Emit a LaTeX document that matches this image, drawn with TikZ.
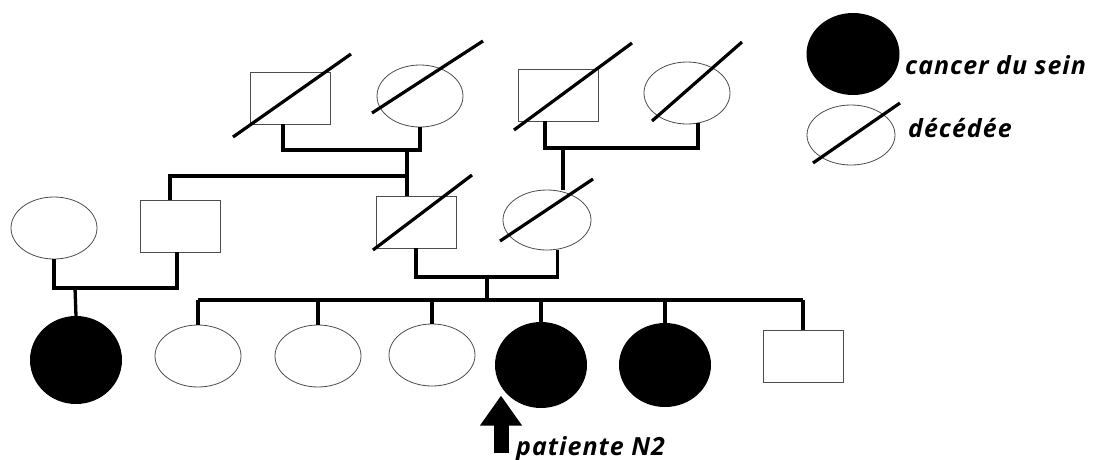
\documentclass[tikz,border=0pt]{standalone}
\usepackage{fontspec}
\setmainfont{Open Sans}
\usetikzlibrary{shapes.geometric,arrows.meta,calc}

\tikzset{
  man/.style={draw=black!70,line width=0.8pt,minimum width=80pt,minimum height=52pt,inner sep=0pt},
  woman/.style={ellipse,draw=black!70,line width=0.8pt,minimum width=86pt,minimum height=62pt,inner sep=0pt},
  sick/.style={ellipse,fill=black,minimum width=92pt,minimum height=86pt,inner sep=0pt},
  link/.style={line width=3.3pt},
  dead/.style={line width=3.2pt},
  legendtext/.style={font=\fontsize{25}{30}\selectfont\bfseries\itshape\addfontfeature{LetterSpace=4},inner sep=0pt,anchor=base west},
}
\newcommand{\deceased}[3]{\draw[dead] ($(#1)+(#2)$) -- ($(#1)+(#3)$);}

\begin{document}
\begin{tikzpicture}[x=1pt,y=-1pt]
        \useasboundingbox (0,0) rectangle (1104,459);
        % grandparents
        \node[man] (gf1) at (290,98) {};
        \node[woman] (gm1) at (420,96) {};
        \node[man] (gf2) at (558,95) {};
        \node[woman] (gm2) at (687,93) {};
        \deceased{gf1}{-57,39}{61,-44}
        \deceased{gm1}{-48,17}{63,-55}
        \deceased{gf2}{-44,35}{74,-52}
        \deceased{gm2}{-35,28}{55,-51}
        \coordinate (u1) at (407,150);
        \coordinate (u2) at (563,148);
        \coordinate (b1) at (407,176);
        \draw[link] ([xshift=-7pt]gf1.south) |- (u1) -| (gm1.south);
        \draw[link] ([xshift=-13pt]gf2.south) |- (u2) -| (gm2.-70);

        % parents, uncle and aunt
        \node[woman] (aunt) at (54,228) {};
        \node[man] (uncle) at (180,226) {};
        \node[man] (fa) at (416,222) {};
        \node[woman,minimum width=88pt,minimum height=60pt] (mo) at (547,220) {};
        \deceased{fa}{-43,28}{56,-47}
        \deceased{mo}{-47,21}{46,-41}
        \draw[link] (u1) -- (u1 |- fa.north);
        \draw[link] (b1) -| ([xshift=-10pt]uncle.north);
        \draw[link] (u2) -- (u2 |- mo.north);
        \coordinate (u3) at (487,277);
        \coordinate (u4) at (75,288);
        \coordinate (s) at (487,300);
        \draw[link] (aunt.south) |- (u4) -| ([xshift=-3pt]uncle.south);
        \draw[link] (fa.south) |- (u3) -| (mo.-70);
        \draw[link] (u3) -- (s);

        % children
        \node[sick,minimum height=88pt] (cz) at (76,360) {};
        \node[woman] (c1) at (198,356) {};
        \node[woman] (c2) at (318,356) {};
        \node[woman] (c3) at (432,355) {};
        \node[sick] (c4) at (541,365) {};
        \node[sick,minimum height=84pt] (c5) at (665,365) {};
        \node[man] (c6) at (803,356) {};
        \draw[link] (u4) -- (cz.north);
        \draw[link] (c1.north |- s) -- (c6.north |- s);
        \foreach \c in {c1,c2,c3,c4,c5,c6}
          \draw[link] (\c.north) -- (\c.north |- s);

        % index case
        \coordinate (pa) at (501,453);
        \draw[line width=15pt,-{Triangle[width=40pt,length=30pt]}] (pa) -- (pa |- c4.south west);
        \node[legendtext] (pn) at (516,455) {patiente N2};

        % legend
        \node[sick,minimum width=93pt,minimum height=82pt] (kaff) at (853,54) {};
        \node[woman,minimum width=88pt,minimum height=60pt] (kdead) at (851,135) {};
        \deceased{kdead}{-38,28}{49,-32}
        \node[legendtext] (kaffl) at (905,74) {cancer du sein};
        \node[legendtext] (kdeadl) at (908,137) {décédée};
\end{tikzpicture}
\end{document}
